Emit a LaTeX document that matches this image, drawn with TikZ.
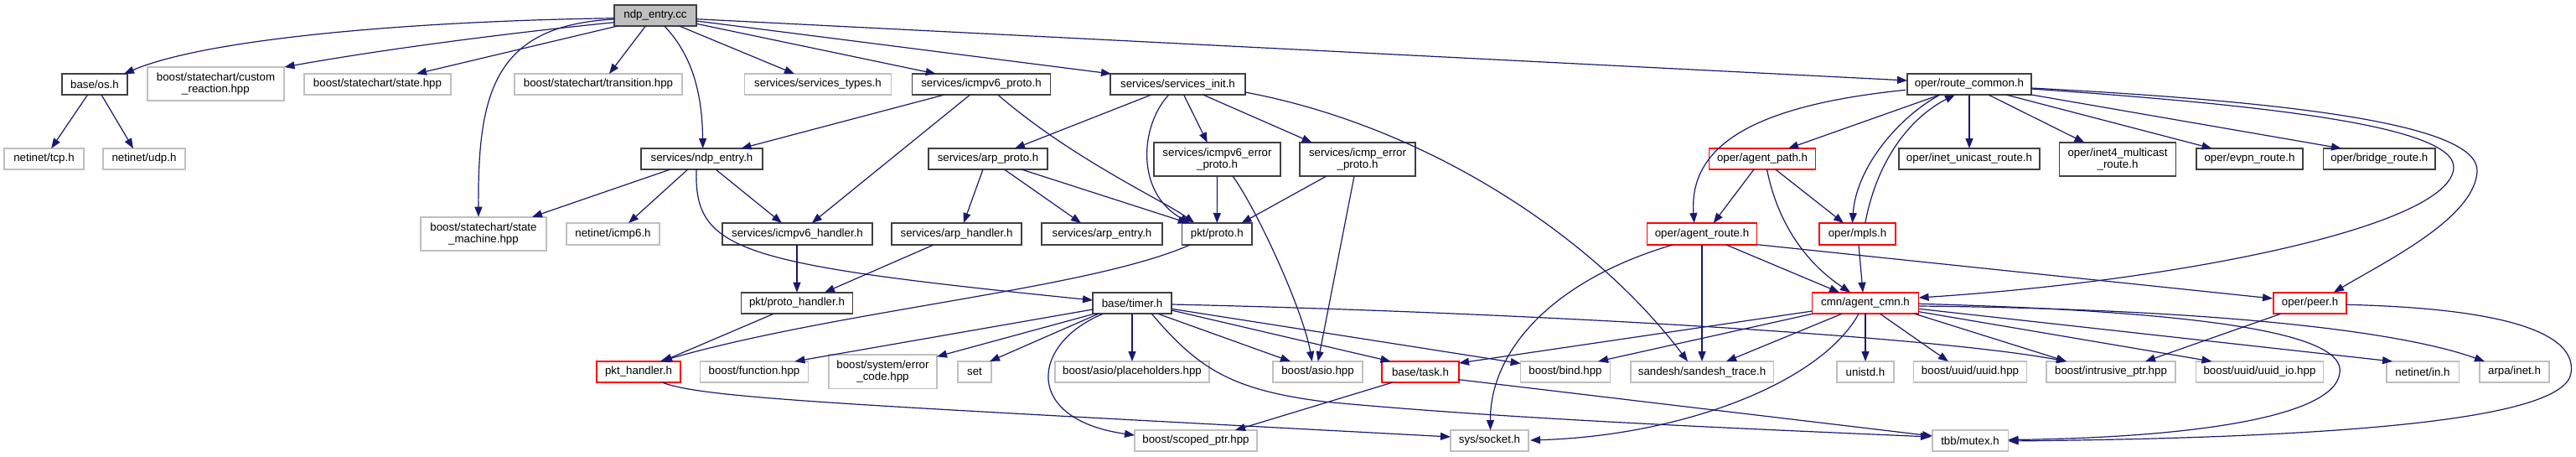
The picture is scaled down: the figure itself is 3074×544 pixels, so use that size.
\documentclass[tikz,border=0pt]{standalone}
\usepackage{fontspec}
\setmainfont{Liberation Sans}
\usetikzlibrary{arrows.meta,calc}
\definecolor{edgec}{HTML}{191970}
\definecolor{gborder}{HTML}{BFBFBF}
\definecolor{kborder}{HTML}{404040}
\definecolor{rborder}{HTML}{FF0000}
\definecolor{rootfill}{HTML}{BFBFBF}
\begin{document}
\begin{tikzpicture}[x=1pt,y=-1pt,
  box/.style={draw, line width=1.6pt, inner sep=0pt, align=center, minimum height=25.5pt, font=\fontsize{13.3}{14.5}\selectfont},
  gbox/.style={box, draw=gborder},
  kbox/.style={box, draw=kborder},
  rbox/.style={box, draw=rborder},
  rootbox/.style={box, draw=kborder, fill=rootfill},
  tall/.style={minimum height=40.5pt},
  wd/.style={minimum width=#1pt},
  edge/.style={draw=edgec, line width=1.2pt, -{Triangle[length=12pt,width=9pt]}}
]
\useasboundingbox (0,0) rectangle (3074,544);
% row 0
\node[rootbox, wd=98] (root) at (782,18.5) {ndp\_entry.cc};
% row 1
\node[kbox, wd=78.5] (os) at (113,100.5) {base/os.h};
\node[gbox, wd=163, tall] (custom) at (257.5,100) {boost/statechart/custom\\\_reaction.hpp};
\node[gbox, wd=175] (state) at (450.5,100.5) {boost/statechart/state.hpp};
\node[gbox, wd=200] (transition) at (714,100.5) {boost/statechart/transition.hpp};
\node[gbox, wd=175] (types) at (976,100.5) {services/services\_types.h};
\node[kbox, wd=165] (icmpv6proto) at (1171,100.5) {services/icmpv6\_proto.h};
\node[kbox, wd=161] (init) at (1405.5,100.5) {services/services\_init.h};
\node[kbox, wd=148] (routecommon) at (2350,100.5) {oper/route\_common.h};
% row 2
\node[gbox, wd=95] (tcp) at (52.5,189.5) {netinet/tcp.h};
\node[gbox, wd=97.5] (udp) at (172,189.5) {netinet/udp.h};
\node[kbox, wd=145] (ndpentry) at (837.5,189.5) {services/ndp\_entry.h};
\node[kbox, wd=142.5] (arpproto) at (1179,189.5) {services/arp\_proto.h};
\node[kbox, wd=151, tall] (icmpv6err) at (1452.5,190) {services/icmpv6\_error\\\_proto.h};
\node[kbox, wd=138, tall] (icmperr) at (1620,190) {services/icmp\_error\\\_proto.h};
\node[rbox, wd=127] (agentpath) at (2103,189.5) {oper/agent\_path.h};
\node[kbox, wd=168.5] (inetuni) at (2350,189.5) {oper/inet\_unicast\_route.h};
\node[kbox, wd=139, tall] (inet4) at (2527,190) {oper/inet4\_multicast\\\_route.h};
\node[kbox, wd=127] (evpn) at (2684.5,189.5) {oper/evpn\_route.h};
\node[kbox, wd=133.4] (bridge) at (2839.3,189.5) {oper/bridge\_route.h};
% row 3
\node[gbox, wd=150.5, tall] (statemachine) at (577,279) {boost/statechart/state\\\_machine.hpp};
\node[gbox, wd=111] (icmp6) at (731.5,279) {netinet/icmp6.h};
\node[kbox, wd=179] (icmpv6handler) at (951.5,279) {services/icmpv6\_handler.h};
\node[kbox, wd=155] (arphandler) at (1141.5,279) {services/arp\_handler.h};
\node[kbox, wd=143.6] (arpentry) at (1315,279) {services/arp\_entry.h};
\node[kbox, wd=83.4] (proto) at (1452.3,279) {pkt/proto.h};
\node[rbox, wd=131] (agentroute) at (2031,279) {oper/agent\_route.h};
\node[rbox, wd=91] (mpls) at (2216.5,279) {oper/mpls.h};
% row 4
\node[kbox, wd=133] (protohandler) at (951,361.5) {pkt/proto\_handler.h};
\node[kbox, wd=94] (timer) at (1351,361.5) {base/timer.h};
\node[rbox, wd=127] (agentcmn) at (2226,361.5) {cmn/agent\_cmn.h};
\node[rbox, wd=87] (peer) at (2756.5,361.5) {oper/peer.h};
% row 5
\node[rbox, wd=100] (pkthandler) at (762,443.5) {pkt\_handler.h};
\node[gbox, wd=129] (function) at (900,443.5) {boost/function.hpp};
\node[gbox, wd=129, tall] (errorcode) at (1053.5,443.3) {boost/system/error\\\_code.hpp};
\node[gbox, wd=40] (set) at (1163,443.5) {set};
\node[gbox, wd=184.4] (placeholders) at (1351,443.5) {boost/asio/placeholders.hpp};
\node[gbox, wd=107] (asio) at (1572.5,443.5) {boost/asio.hpp};
\node[rbox, wd=91.6] (task) at (1695,443.5) {base/task.h};
\node[gbox, wd=106.7] (bind) at (1868,443.5) {boost/bind.hpp};
\node[gbox, wd=170.6] (sandesh) at (2031,443.5) {sandesh/sandesh\_trace.h};
\node[gbox, wd=68.4] (unistd) at (2226,443.5) {unistd.h};
\node[gbox, wd=135] (uuid) at (2351,443.5) {boost/uuid/uuid.hpp};
\node[gbox, wd=153.5] (intrusive) at (2519,443.5) {boost/intrusive\_ptr.hpp};
\node[gbox, wd=152] (uuidio) at (2696.5,443.5) {boost/uuid/uuid\_io.hpp};
\node[gbox, wd=86.6] (netinetin) at (2891,443.5) {netinet/in.h};
\node[gbox, wd=83] (arpainet) at (3000.5,443.5) {arpa/inet.h};
% row 6
\node[gbox, wd=146] (scoped) at (1427,525.5) {boost/scoped\_ptr.hpp};
\node[gbox, wd=93] (socket) at (1777.5,525.5) {sys/socket.h};
\node[gbox, wd=90.6] (mutex) at (2351,525.5) {tbb/mutex.h};

% edges from root
\draw[edge] ($(root)+(-49,3.2)$) .. controls (500,25) and (250,45) .. ($(os)+(35,-12.5)$);
\draw[edge] ($(root)+(-49,8.2)$) .. controls (600,40) and (450,60) .. ($(custom)+(82,-20)$);
\draw[edge] ($(root)+(-45,12.5)$) -- ($(state)+(46.5,-12.5)$);
\draw[edge] ($(root)+(-11.6,12.5)$) -- ($(transition)+(13,-12.5)$);
\draw[edge] ($(root)+(-49,4.5)$) .. controls (590,30) and (570,110) .. ($(statemachine)+(-6,-20.3)$);
\draw[edge] ($(root)+(10.8,12.5)$) .. controls (830,70) and (838,120) .. ($(ndpentry)+(1.2,-12.5)$);
\draw[edge] ($(root)+(28.6,12.5)$) -- ($(types)+(-28,-12.5)$);
\draw[edge] ($(root)+(49,9.8)$) -- ($(icmpv6proto)+(-54.3,-12.5)$);
\draw[edge] ($(root)+(49,6.5)$) -- ($(init)+(-79.5,-12.5)$);
\draw[edge] ($(root)+(49,4.2)$) -- ($(routecommon)+(-74,-4.5)$);
% os
\draw[edge] ($(os)+(-8.4,12.5)$) -- ($(tcp)+(8.7,-12.5)$);
\draw[edge] ($(os)+(8,12.5)$) -- ($(udp)+(-13,-12.5)$);
% icmpv6 proto
\draw[edge] ($(icmpv6proto)+(-44,12.5)$) -- ($(ndpentry)+(47,-12.5)$);
\draw[edge] ($(icmpv6proto)+(-13.4,12.5)$) -- ($(icmpv6handler)+(17.3,-13)$);
\draw[edge] ($(icmpv6proto)+(19.7,12.5)$) .. controls (1280,190) and (1390,240) .. ($(proto)+(-27,-13)$);
% services init
\draw[edge] ($(init)+(-31.5,12.5)$) -- ($(arpproto)+(32,-12.5)$);
\draw[edge] ($(init)+(-10.7,12.5)$) .. controls (1360,150) and (1355,230) .. ($(proto)+(-32.3,-13)$);
\draw[edge] ($(init)+(7.1,12.5)$) -- ($(icmpv6err)+(-11.8,-20)$);
\draw[edge] ($(init)+(30.1,12.5)$) -- ($(icmperr)+(-54.3,-20)$);
\draw[edge] ($(init)+(80.5,9.5)$) .. controls (1700,150) and (1900,280) .. ($(sandesh)+(-17,-12.5)$);
% ndp_entry.h
\draw[edge] ($(ndpentry)+(-37.5,12.5)$) -- ($(statemachine)+(58,-20.3)$);
\draw[edge] ($(ndpentry)+(-16.7,12.5)$) -- ($(icmp6)+(18.5,-13)$);
\draw[edge] ($(ndpentry)+(16.5,12.5)$) -- ($(icmpv6handler)+(-18.5,-13)$);
\draw[edge] ($(ndpentry)+(-6.5,12.5)$) .. controls (828,300) and (880,315) .. ($(timer)+(-47,-3.5)$);
% arp proto
\draw[edge] ($(arpproto)+(-6,12.5)$) -- ($(arphandler)+(8.4,-13)$);
\draw[edge] ($(arpproto)+(19.4,12.5)$) -- ($(arpentry)+(-25,-13)$);
\draw[edge] ($(arpproto)+(39.8,12.5)$) -- ($(proto)+(-34.5,-13)$);
% error protos
\draw[edge] ($(icmpv6err)+(0,20)$) -- ($(proto)+(0,-13)$);
\draw[edge] ($(icmpv6err)+(18.5,20)$) .. controls (1500,250) and (1555,370) .. ($(asio)+(-6.8,-12.5)$);
\draw[edge] ($(icmperr)+(-37,20)$) -- ($(proto)+(29.2,-13)$);
\draw[edge] ($(icmperr)+(-4,20)$) -- ($(asio)+(0.3,-12.5)$);
% handlers
\draw[edge] ($(icmpv6handler)+(-0.5,13)$) -- ($(protohandler)+(0,-12.8)$);
\draw[edge] ($(arphandler)+(-27.5,13)$) -- ($(protohandler)+(33,-12.8)$);
\draw[edge] ($(proto)+(-32.3,13)$) .. controls (1300,345) and (1000,370) .. ($(pkthandler)+(25.7,-12.5)$);
\draw[edge] ($(protohandler)+(-28,12.8)$) -- ($(pkthandler)+(28,-12.5)$);
\draw[edge] ($(pkthandler)+(28,12.5)$) .. controls (840,475) and (1000,482) .. ($(socket)+(-46.5,-4.5)$);
% timer
\draw[edge] ($(timer)+(-47,7.5)$) -- ($(function)+(48.4,-12.5)$);
\draw[edge] ($(timer)+(-45.5,12.8)$) -- ($(errorcode)+(64.5,-18)$);
\draw[edge] ($(timer)+(-40.4,12.8)$) -- ($(set)+(18,-12.5)$);
\draw[edge] ($(timer)+(0,12.8)$) -- ($(placeholders)+(0,-12.5)$);
\draw[edge] ($(timer)+(31,12.8)$) -- ($(asio)+(-32.5,-12.5)$);
\draw[edge] ($(timer)+(47,8.5)$) -- ($(task)+(-35.5,-12.5)$);
\draw[edge] ($(timer)+(47,6.8)$) -- ($(bind)+(-53.4,-10)$);
\draw[edge] ($(timer)+(47,1.5)$) .. controls (1800,372) and (2300,400) .. ($(intrusive)+(-53,-12.5)$);
\draw[edge] ($(timer)+(-35.3,13)$) .. controls (1230,410) and (1220,500) .. ($(scoped)+(-73,-6.5)$);
\draw[edge] ($(timer)+(23.4,12.8)$) .. controls (1430,440) and (1470,465) .. (1580,479) .. controls (1800,500) and (2100,512) .. ($(mutex)+(-47,-4.5)$);
% task
\draw[edge] ($(task)+(-33,12.5)$) -- ($(scoped)+(47,-12.5)$);
\draw[edge] ($(task)+(45.6,9.2)$) -- ($(mutex)+(-45,-5.5)$);
% route common
\draw[edge] ($(routecommon)+(-76,6.8)$) .. controls (2100,125) and (2015,170) .. ($(agentroute)+(-9.3,-13)$);
\draw[edge] ($(routecommon)+(-35,12.5)$) -- ($(agentpath)+(31,-12.5)$);
\draw[edge] ($(routecommon)+(-35,12.5)$) .. controls (2265,140) and (2215,200) .. ($(mpls)+(-6,-13)$);
\draw[edge] ($(mpls)+(9.3,-13)$) .. controls (2240,190) and (2280,140) .. ($(routecommon)+(-17,12.5)$);
\draw[edge] ($(routecommon)+(0,12.5)$) -- ($(inetuni)+(0,-12.5)$);
\draw[edge] ($(routecommon)+(22.8,12.5)$) -- ($(inet4)+(-39.5,-20)$);
\draw[edge] ($(routecommon)+(43.8,12.5)$) -- ($(evpn)+(-45,-12.5)$);
\draw[edge] ($(routecommon)+(74,12.5)$) -- ($(bridge)+(-45.3,-12.5)$);
\draw[edge] ($(routecommon)+(74,5.5)$) .. controls (2700,125) and (2930,150) .. (2928,200) .. controls (2925,270) and (2600,335) .. ($(agentcmn)+(63.6,-6.5)$);
\draw[edge] ($(routecommon)+(74,4.5)$) .. controls (2750,122) and (2960,150) .. (2956,205) .. controls (2952,260) and (2850,310) .. ($(peer)+(28.5,-13)$);
% agent path
\draw[edge] ($(agentpath)+(-10,12.5)$) -- ($(agentroute)+(13.7,-13)$);
\draw[edge] ($(agentpath)+(15.7,12.5)$) -- ($(mpls)+(-16.5,-13)$);
\draw[edge] ($(agentpath)+(5.5,12.5)$) .. controls (2120,260) and (2150,310) .. ($(agentcmn)+(-18,-12.8)$);
% agent route
\draw[edge] ($(agentroute)+(29,13)$) -- ($(agentcmn)+(-31,-12.8)$);
\draw[edge] ($(agentroute)+(0,13)$) -- ($(sandesh)+(0,-12.5)$);
\draw[edge] ($(agentroute)+(-35,13)$) .. controls (1850,335) and (1778,420) .. ($(socket)+(1,-12.5)$);
\draw[edge] ($(agentroute)+(65.7,12.7)$) -- ($(peer)+(-44.5,-5.5)$);
% mpls
\draw[edge] ($(mpls)+(1.5,13)$) -- ($(agentcmn)+(-3,-12.8)$);
% agent cmn
\draw[edge] ($(agentcmn)+(-63.4,9.5)$) -- ($(task)+(46,-10.5)$);
\draw[edge] ($(agentcmn)+(-63.4,12.8)$) -- ($(bind)+(39,-12.5)$);
\draw[edge] ($(agentcmn)+(-28.2,12.8)$) -- ($(sandesh)+(29,-12.5)$);
\draw[edge] ($(agentcmn)+(0,12.8)$) -- ($(unistd)+(0,-12.5)$);
\draw[edge] ($(agentcmn)+(17.6,12.8)$) -- ($(uuid)+(-26,-12.5)$);
\draw[edge] ($(agentcmn)+(-8,12.8)$) .. controls (2170,460) and (2000,520) .. ($(socket)+(48.5,-0.5)$);
\draw[edge] ($(agentcmn)+(59,12.8)$) -- ($(intrusive)+(-53,-12.5)$);
\draw[edge] ($(agentcmn)+(63.6,10.2)$) -- ($(uuidio)+(-57,-12.5)$);
\draw[edge] ($(agentcmn)+(63.6,6.8)$) -- ($(netinetin)+(-36,-12.5)$);
\draw[edge] ($(agentcmn)+(63.6,3.5)$) .. controls (2600,368) and (2850,390) .. ($(arpainet)+(-35.5,-12.5)$);
\draw[edge] ($(agentcmn)+(63.6,0.8)$) .. controls (2650,372) and (2800,400) .. (2792,445) .. controls (2785,500) and (2600,522) .. ($(mutex)+(45.5,-1)$);
% peer
\draw[edge] ($(peer)+(-35,12.8)$) -- ($(intrusive)+(41,-12.5)$);
\draw[edge] ($(peer)+(43.5,1.8)$) .. controls (3000,368) and (3075,400) .. (3068,445) .. controls (3060,500) and (2800,522) .. ($(mutex)+(45.5,0.5)$);
\end{tikzpicture}
\end{document}
